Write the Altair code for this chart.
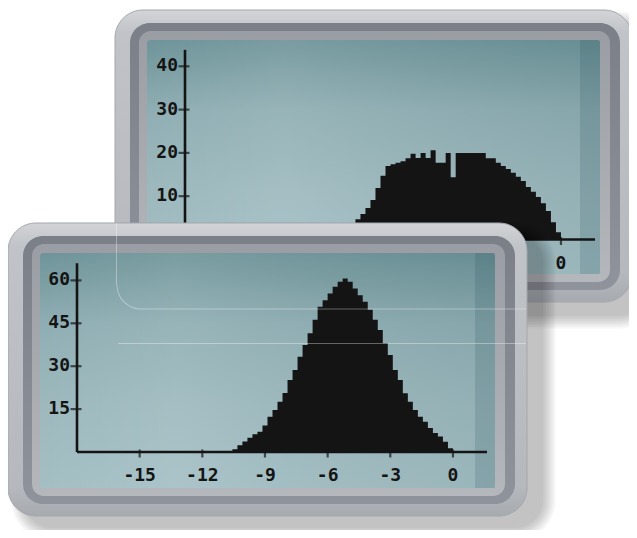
import math
import altair as alt
import pandas as pd

# ---------------- data ----------------
bin_start = -10.56
bin_width = 0.24
front_counts = [1.0, 2.4, 3.7, 5.0, 6.2, 7.1, 9.3, 12.3, 14.7, 17.6, 20.6, 25.2, 28.7, 33.3,
                37.4, 41.5, 46.2, 50.8, 53.1, 55.4, 57.8, 59.5, 60.7, 59.5, 57.2, 54.8, 52.5,
                49.7, 46.2, 42.7, 38.0, 33.9, 28.7, 25.2, 20.5, 17.6, 14.7, 12.3, 10.6, 8.4,
                6.6, 5.4, 3.6, 1.3]
back_counts = [1.0, 2.0, 3.0, 4.7, 5.9, 7.3, 9.1, 11.9, 14.7, 17.0, 17.4, 17.7, 18.1, 18.75,
               19.8, 18.8, 20.0, 18.8, 20.6, 17.7, 17.7, 20.0, 14.4, 20.0, 20.0, 20.0, 20.0,
               20.0, 20.0, 18.75, 18.75, 17.7, 17.0, 16.3, 15.4, 14.5, 13.5, 12.1, 11.0, 9.8,
               8.4, 6.6, 4.0, 1.7]
x_ticks = [-15, -12, -9, -6, -3, 0]
front_y_ticks = [15, 30, 45, 60]
back_y_ticks = [10, 20, 30, 40]
x_domain = [-18, 1.63]
front_y_domain = [0, 66]
back_y_domain = [0, 43.8]

OFF = 8
INK = "#141414"
FONT = "DejaVu Sans Mono"
ONE = pd.DataFrame({"k": [0]})


def hist_df(counts):
    edges = [round(bin_start + i * bin_width, 3) for i in range(len(counts) + 1)]
    return pd.DataFrame({"x": edges, "count": list(counts) + [0]})


def vgrad(stops, horizontal=False):
    return alt.LinearGradient(
        gradient="linear",
        stops=[alt.GradientStop(color=c, offset=o) for o, c in stops],
        x1=0, y1=0, x2=1 if horizontal else 0, y2=0 if horizontal else 1,
    )


def rrect(x1, y1, x2, y2, fill, r=0, opacity=1.0, stroke=None, sw=0):
    kw = dict(fill=fill, cornerRadius=r, opacity=opacity)
    if stroke:
        kw.update(stroke=stroke, strokeWidth=sw)
    return alt.Chart(ONE).mark_rect(**kw).encode(
        x=alt.value(x1 - OFF), x2=alt.value(x2 - OFF),
        y=alt.value(y1 - OFF), y2=alt.value(y2 - OFF),
    )


def bezel(x1, y1, x2, y2):
    layers = []
    layers.append(rrect(x1, y1, x2, y2,
                        vgrad([(0, "#d2d4d7"), (0.08, "#c0c3c7"), (0.9, "#b5b8bd"), (1, "#a7abb0")]),
                        r=28, stroke="#a4a7ac", sw=1))
    layers.append(rrect(x1 + 15, y1 + 13, x2 - 12, y2 - 12,
                        vgrad([(0, "#7b7f88"), (1, "#8f939b")]), r=20))
    layers.append(rrect(x1 + 24, y1 + 21, x2 - 22, y2 - 20,
                        vgrad([(0, "#9a9ea4"), (1, "#b4b7bb")]), r=12))
    sx1, sy1, sx2, sy2 = x1 + 32, y1 + 30, x2 - 32, y2 - 28
    layers.append(rrect(sx1, sy1, sx2, sy2,
                        vgrad([(0, "#6e9499"), (0.3, "#8faeb3"), (0.65, "#9db9be"), (1, "#a3bfc4")]),
                        r=3))
    layers.append(rrect(sx1, sy1, sx2, sy2,
                        vgrad([(0, "rgba(255,255,255,0.0)"), (0.3, "rgba(255,255,255,0.08)"),
                               (1, "rgba(0,40,50,0.06)")], horizontal=True), r=3))
    layers.append(rrect(sx2 - 20, sy1, sx2, sy2, "#1f4650", r=0, opacity=0.16))
    return layers


def shadow(x1, y1, x2, y2, dx, dy):
    out = []
    for k in range(9):
        e = k * 1.6
        out.append(rrect(x1 + dx - e, y1 + dy - e, x2 + dx + e, y2 + dy + e, "#000000",
                         r=28 + e, opacity=0.026))
    return out


def plot_layers(counts, xs, ys, ydom, yticks):
    layers = []
    layers.append(alt.Chart(hist_df(counts)).mark_area(interpolate="step-after", color=INK).encode(
        x=alt.X("x:Q", scale=xs, axis=None),
        y=alt.Y("count:Q", scale=ys, axis=None),
    ))
    layers.append(alt.Chart(ONE).mark_rule(color=INK, strokeWidth=2.6).encode(
        x=alt.XDatum(x_domain[0], scale=xs, axis=None), x2=alt.X2Datum(x_domain[1]),
        y=alt.YDatum(0, scale=ys, axis=None),
    ))
    layers.append(alt.Chart(ONE).mark_rule(color=INK, strokeWidth=2.6).encode(
        x=alt.XDatum(x_domain[0], scale=xs, axis=None),
        y=alt.YDatum(0, scale=ys, axis=None), y2=alt.Y2Datum(ydom[1]),
    ))
    xt = pd.DataFrame({"v": x_ticks, "lab": [str(v) for v in x_ticks]})
    layers.append(alt.Chart(xt).mark_tick(orient="vertical", size=8, thickness=2.2, color=INK, yOffset=1.5).encode(
        x=alt.X("v:Q", scale=xs, axis=None), y=alt.YDatum(0, scale=ys, axis=None),
    ))
    layers.append(alt.Chart(xt).mark_text(font=FONT, fontWeight="bold", fontSize=18, color=INK,
                                          align="center", baseline="alphabetic", dy=29).encode(
        x=alt.X("v:Q", scale=xs, axis=None), y=alt.YDatum(0, scale=ys, axis=None), text="lab:N",
    ))
    yt = pd.DataFrame({"v": yticks, "lab": [str(v) for v in yticks]})
    layers.append(alt.Chart(yt).mark_tick(orient="horizontal", size=11, thickness=2.2, color=INK, xOffset=-1).encode(
        y=alt.Y("v:Q", scale=ys, axis=None), x=alt.XDatum(x_domain[0], scale=xs, axis=None),
    ))
    layers.append(alt.Chart(yt).mark_text(font=FONT, fontWeight="bold", fontSize=18, color=INK,
                                          align="right", baseline="middle", dx=-7).encode(
        y=alt.Y("v:Q", scale=ys, axis=None), x=alt.XDatum(x_domain[0], scale=xs, axis=None), text="lab:N",
    ))
    return layers


back_xs = alt.Scale(domain=x_domain, range=[185 - OFF, 595 - OFF], nice=False, zero=False)
back_ys = alt.Scale(domain=back_y_domain, range=[239.5 - OFF, 239.5 - OFF - 43.8 * 4.33], nice=False, zero=False)
front_xs = alt.Scale(domain=x_domain, range=[77 - OFF, 487 - OFF], nice=False, zero=False)
front_ys = alt.Scale(domain=front_y_domain, range=[452 - OFF, 452 - OFF - 66 * 2.86], nice=False, zero=False)

layers = []
layers += shadow(115, 10, 632, 302, 14, 14)
layers += bezel(115, 10, 632, 302)
layers += plot_layers(back_counts, back_xs, back_ys, back_y_domain, back_y_ticks)
layers += shadow(8, 223, 527, 516, 16, 12)
layers += bezel(8, 223, 527, 516)
layers += plot_layers(front_counts, front_xs, front_ys, front_y_domain, front_y_ticks)

refl = dict(color="white", opacity=0.35, strokeWidth=1)
layers.append(alt.Chart(ONE).mark_rule(**refl).encode(
    x=alt.value(116.5 - OFF), y=alt.value(223 - OFF), y2=alt.value(285 - OFF)))
layers.append(alt.Chart(ONE).mark_arc(radius=24.5, radius2=23.5, theta=math.pi, theta2=1.5 * math.pi,
                                      fill="white", opacity=0.35).encode(
    x=alt.value(141 - OFF), y=alt.value(285 - OFF)))
layers.append(alt.Chart(ONE).mark_rule(**refl).encode(
    x=alt.value(141 - OFF), x2=alt.value(526 - OFF), y=alt.value(309 - OFF)))
layers.append(alt.Chart(ONE).mark_rule(**refl).encode(
    x=alt.value(118 - OFF), x2=alt.value(526 - OFF), y=alt.value(343.5 - OFF)))

chart = alt.layer(*layers).resolve_scale(x="independent", y="independent").properties(
    width=621, height=522, padding=0, background="white",
    autosize=alt.AutoSizeParams(type="none"),
).configure_view(stroke=None)

chart.save("out.html", embed_options={"renderer": "svg", "actions": False})
